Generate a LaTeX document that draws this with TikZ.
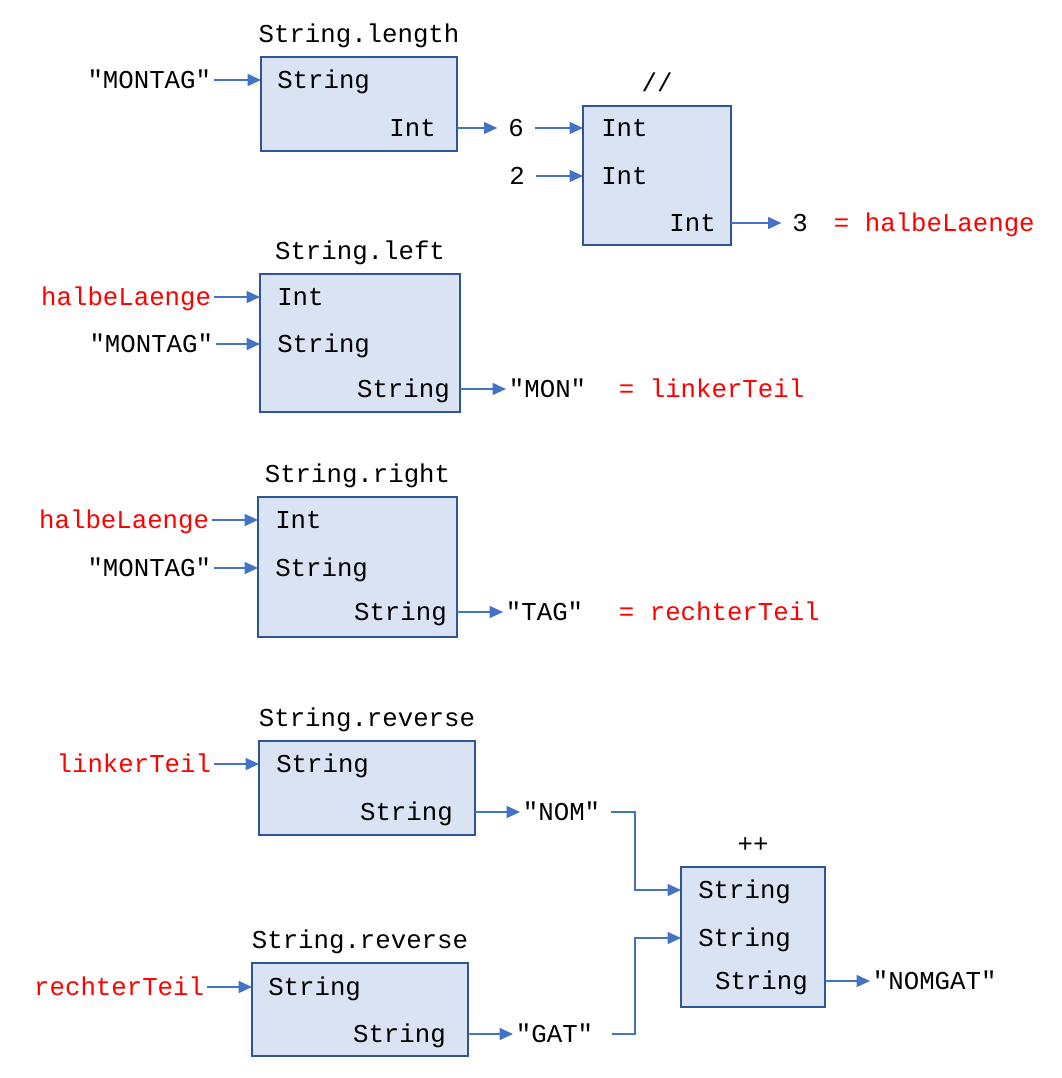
\documentclass[tikz,border=0pt]{standalone}
\usepackage{fontspec}
\setmonofont{Liberation Mono}
\usepackage{tikz}
\usetikzlibrary{arrows.meta,positioning,fit}
\definecolor{boxfill}{HTML}{DAE3F3}
\definecolor{boxline}{HTML}{2F5597}
\definecolor{wire}{HTML}{4472C4}
\definecolor{varred}{HTML}{FF0000}

\begin{document}
\begin{tikzpicture}[x=0.75pt,y=-0.75pt,
  every node/.style={font=\fontsize{19.3}{22}\selectfont\ttfamily,text height=12.6pt,text depth=0pt},
  fbox/.style={draw=boxline,fill=boxfill,line width=1.5pt,inner sep=0pt,outer sep=0pt},
  port/.style={inner sep=0pt},
  arg/.style={inner xsep=2pt,inner ysep=0pt,anchor=east},
  val/.style={inner xsep=2pt,inner ysep=0pt,anchor=west},
  num/.style={inner xsep=8pt,inner ysep=0pt},
  var/.style={text=varred},
  conn/.style={draw=wire,line width=1pt,-{Triangle[length=10pt,width=9pt]}}]
\useasboundingbox (0,0) rectangle (1062,1078);

% String.length
\node[fbox,fit={(261,57) (457,151)}] (len) {};
\node[port,above=11pt of len] {String.length};
\node[port,anchor=west] (len-p1) at (277,80) {String};
\node[port,anchor=east] (len-p2) at (436,128) {Int};
\node[arg] (len-in) at (214,80) {"MONTAG"};
\node[num] (six) at (516,128) {6};
\draw[conn] (len-in.east) -- (len.west |- len-p1);
\draw[conn] (len.east |- len-p2) -- (six.west);

% Division
\node[fbox,fit={(583,106) (731,245)}] (div) {};
\node[port,above=11pt of div] {//};
\node[port,anchor=west] (div-p1) at (601,128) {Int};
\node[port,anchor=west] (div-p2) at (601,176) {Int};
\node[port,anchor=east] (div-p3) at (716,223) {Int};
\node[num] (two) at (517,176) {2};
\node[num] (three) at (800,223) {3};
\node[val,var] (halbe) at (831,223) {= halbeLaenge};
\draw[conn] (six.east) -- (div.west |- div-p1);
\draw[conn] (two.east) -- (div.west |- div-p2);
\draw[conn] (div.east |- div-p3) -- (three.west);

% String.left
\node[fbox,fit={(260,274) (460,412)}] (left) {};
\node[port,above=11pt of left] {String.left};
\node[port,anchor=west] (left-p1) at (277,297) {Int};
\node[port,anchor=west] (left-p2) at (277,344) {String};
\node[port,anchor=east] (left-p3) at (450,389) {String};
\node[arg,var] (left-in1) at (214,297) {halbeLaenge};
\node[arg] (left-in2) at (216,344) {"MONTAG"};
\node[val] (mon) at (506,389) {"MON"};
\node[val,var] (linker) at (616,389) {= linkerTeil};
\draw[conn] (left-in1.east) -- (left.west |- left-p1);
\draw[conn] (left-in2.east) -- (left.west |- left-p2);
\draw[conn] (left.east |- left-p3) -- (mon.west);

% String.right
\node[fbox,fit={(258,497) (457,637)}] (right) {};
\node[port,above=11pt of right] {String.right};
\node[port,anchor=west] (right-p1) at (275,520) {Int};
\node[port,anchor=west] (right-p2) at (275,568) {String};
\node[port,anchor=east] (right-p3) at (447,612) {String};
\node[arg,var] (right-in1) at (212,520) {halbeLaenge};
\node[arg] (right-in2) at (214,568) {"MONTAG"};
\node[val] (tag) at (503,612) {"TAG"};
\node[val,var] (rechter) at (616,612) {= rechterTeil};
\draw[conn] (right-in1.east) -- (right.west |- right-p1);
\draw[conn] (right-in2.east) -- (right.west |- right-p2);
\draw[conn] (right.east |- right-p3) -- (tag.west);

% String.reverse (linkerTeil)
\node[fbox,fit={(259,741) (475,835)}] (rev1) {};
\node[port,above=11pt of rev1] {String.reverse};
\node[port,anchor=west] (rev1-p1) at (276,764) {String};
\node[port,anchor=east] (rev1-p2) at (453,812) {String};
\node[arg,var] (rev1-in) at (214,764) {linkerTeil};
\node[val] (nom) at (520,812) {"NOM"};
\draw[conn] (rev1-in.east) -- (rev1.west |- rev1-p1);
\draw[conn] (rev1.east |- rev1-p2) -- (nom.west);

% String.reverse (rechterTeil)
\node[fbox,fit={(252,963) (468,1056)}] (rev2) {};
\node[port,above=11pt of rev2] {String.reverse};
\node[port,anchor=west] (rev2-p1) at (268,987) {String};
\node[port,anchor=east] (rev2-p2) at (446,1034) {String};
\node[arg,var] (rev2-in) at (207,987) {rechterTeil};
\node[val] (gat) at (513,1034) {"GAT"};
\draw[conn] (rev2-in.east) -- (rev2.west |- rev2-p1);
\draw[conn] (rev2.east |- rev2-p2) -- (gat.west);

% Concatenation
\node[fbox,fit={(681,867) (825,1007)}] (cat) {};
\node[port,above=11pt of cat] {++};
\node[port,anchor=west] (cat-p1) at (698,890) {String};
\node[port,anchor=west] (cat-p2) at (698,938) {String};
\node[port,anchor=east] (cat-p3) at (808,981) {String};
\node[val] (res) at (870,981) {"NOMGAT"};
\coordinate (join) at (635,900);
\draw[conn] ([xshift=6pt]nom.east) -- (nom.east -| join) |- (cat.west |- cat-p1);
\draw[conn] ([xshift=12pt]gat.east) -- (gat.east -| join) |- (cat.west |- cat-p2);
\draw[conn] (cat.east |- cat-p3) -- (res.west);
\end{tikzpicture}
\end{document}
